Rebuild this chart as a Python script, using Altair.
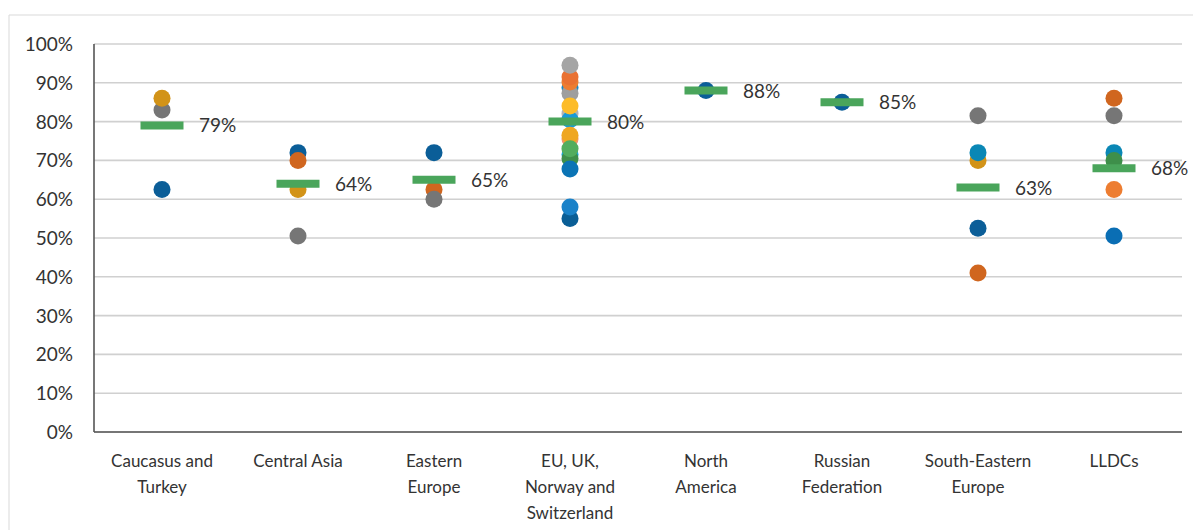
import altair as alt
import pandas as pd

# Regions along the x axis, with the wrapped lines used for their tick labels
regions = [
    "Caucasus and Turkey",
    "Central Asia",
    "Eastern Europe",
    "EU, UK, Norway and Switzerland",
    "North America",
    "Russian Federation",
    "South-Eastern Europe",
    "LLDCs",
]
region_lines = [
    ["Caucasus and", "Turkey"],
    ["Central Asia"],
    ["Eastern", "Europe"],
    ["EU, UK,", "Norway and", "Switzerland"],
    ["North", "America"],
    ["Russian", "Federation"],
    ["South-Eastern", "Europe"],
    ["LLDCs"],
]

# Y-axis tick positions (0% .. 100% in 10% steps)
y_ticks = [0.0, 0.1, 0.2, 0.3, 0.4, 0.5, 0.6, 0.7, 0.8, 0.9, 1.0]

# Region averages (green bars with their labels)
region_means = [0.79, 0.64, 0.65, 0.80, 0.88, 0.85, 0.63, 0.68]

# Individual country scores per region, listed in drawing order
caucasus_vals = [0.625, 0.83, 0.86]
caucasus_cols = ["#0B5E98", "#767676", "#D29318"]

central_asia_vals = [0.72, 0.70, 0.625, 0.505]
central_asia_cols = ["#0B5E98", "#D0661F", "#D29318", "#767676"]

eastern_vals = [0.72, 0.625, 0.60]
eastern_cols = ["#0B5E98", "#D0661F", "#767676"]

eu_vals = [0.888, 0.873, 0.902, 0.915, 0.945, 0.82, 0.805, 0.84,
           0.755, 0.765, 0.715, 0.705, 0.73, 0.678, 0.55, 0.58]
eu_cols = ["#1789C4", "#9E9E9E", "#ED7D31", "#E97132", "#A5A5A5", "#B3B3B3",
           "#1A9BD6", "#FDBC28", "#F2936B", "#EFA722", "#15A7DD", "#3E8F4A",
           "#52AD5E", "#0B74B5", "#0A5E96", "#1A82C9"]

north_america_vals = [0.88]
north_america_cols = ["#0B5E98"]

russia_vals = [0.85]
russia_cols = ["#0B5E98"]

se_europe_vals = [0.815, 0.70, 0.72, 0.525, 0.41]
se_europe_cols = ["#767676", "#D29318", "#0A87B5", "#0B5E98", "#D0661F"]

lldc_vals = [0.86, 0.815, 0.72, 0.70, 0.625, 0.505]
lldc_cols = ["#D0661F", "#767676", "#0A87B5", "#3E8F4A", "#ED7D31", "#0A6EB4"]

groups = [
    (caucasus_vals, caucasus_cols),
    (central_asia_vals, central_asia_cols),
    (eastern_vals, eastern_cols),
    (eu_vals, eu_cols),
    (north_america_vals, north_america_cols),
    (russia_vals, russia_cols),
    (se_europe_vals, se_europe_cols),
    (lldc_vals, lldc_cols),
]

rows = []
for region, (vals, cols) in zip(regions, groups):
    for v, c in zip(vals, cols):
        rows.append({"region": region, "value": v, "color": c})
points_df = pd.DataFrame(rows)
means_df = pd.DataFrame({"region": regions, "mean": region_means})
ticks_df = pd.DataFrame({"tick": y_ticks})

# Multi-line tick labels via a lookup in the label expression
label_map = "{" + ", ".join(
    "'" + r + "': [" + ", ".join("'" + s + "'" for s in lines) + "]"
    for r, lines in zip(regions, region_lines)
) + "}"

font = "Lato"
text_color = "#333333"
axis_color = "#555555"
PLOT_W, PLOT_H = 1088, 388

x_axis = alt.Axis(
    title=None,
    labelAngle=0,
    labelExpr=label_map + "[datum.value]",
    labelFont=font,
    labelFontSize=17,
    labelColor=text_color,
    labelLineHeight=26,
    labelPadding=21,
    labelBaseline="top",
    ticks=False,
    domain=False,
    grid=False,
)
y_scale = alt.Scale(domain=[0, 1], nice=False)


def x_enc():
    return alt.X("region:N", sort=regions, scale=alt.Scale(domain=regions), axis=x_axis)


def y_enc(field):
    return alt.Y(field, scale=y_scale, axis=None)


one_row = pd.DataFrame({"f": [0]})

# Light outer frame around the whole figure
frame = alt.Chart(one_row).mark_rect(
    fill="transparent", stroke="#D9D9D9", strokeWidth=1
).encode(
    x=alt.value(-85), x2=alt.value(1150), y=alt.value(-29), y2=alt.value(700)
)

# Horizontal gridlines and their percentage labels
grid = alt.Chart(ticks_df).mark_rule(color="#D0D0D0", strokeWidth=1.6).encode(
    y=y_enc("tick:Q"),
    x=alt.value(0),
    x2=alt.value(PLOT_W),
)

tick_labels = alt.Chart(ticks_df).mark_text(
    align="right", baseline="middle", dx=-21, dy=1,
    font=font, fontSize=19, color=text_color,
).encode(
    y=y_enc("tick:Q"),
    x=alt.value(0),
    text=alt.Text("tick:Q", format=".0%"),
)

# Axis lines (left and bottom)
y_line = alt.Chart(one_row).mark_rule(color=axis_color, strokeWidth=1.6).encode(
    x=alt.value(0), y=alt.value(0), y2=alt.value(PLOT_H)
)
x_line = alt.Chart(one_row).mark_rule(color=axis_color, strokeWidth=1.6).encode(
    x=alt.value(0), x2=alt.value(PLOT_W), y=alt.value(PLOT_H)
)

dots = alt.Chart(points_df).mark_circle(size=290, opacity=1).encode(
    x=x_enc(),
    y=y_enc("value:Q"),
    color=alt.Color("color:N", scale=None),
)

bars = alt.Chart(means_df).mark_tick(
    color="#4AA55B", thickness=8, size=43, opacity=1
).encode(
    x=x_enc(),
    y=y_enc("mean:Q"),
)

labels = alt.Chart(means_df).mark_text(
    align="left", baseline="middle", dx=37, dy=1,
    font=font, fontSize=19, color=text_color,
).encode(
    x=x_enc(),
    y=y_enc("mean:Q"),
    text=alt.Text("mean:Q", format=".0%"),
)

chart = alt.layer(
    frame, grid, tick_labels, y_line, x_line, dots, bars, labels
).properties(
    width=PLOT_W,
    height=PLOT_H,
    autosize=alt.AutoSizeParams(type="none"),
    padding={"left": 94, "top": 44, "right": 11, "bottom": 98},
    background="white",
).configure_view(stroke=None)

chart.save("out.html", embed_options={"renderer": "svg", "actions": False})
